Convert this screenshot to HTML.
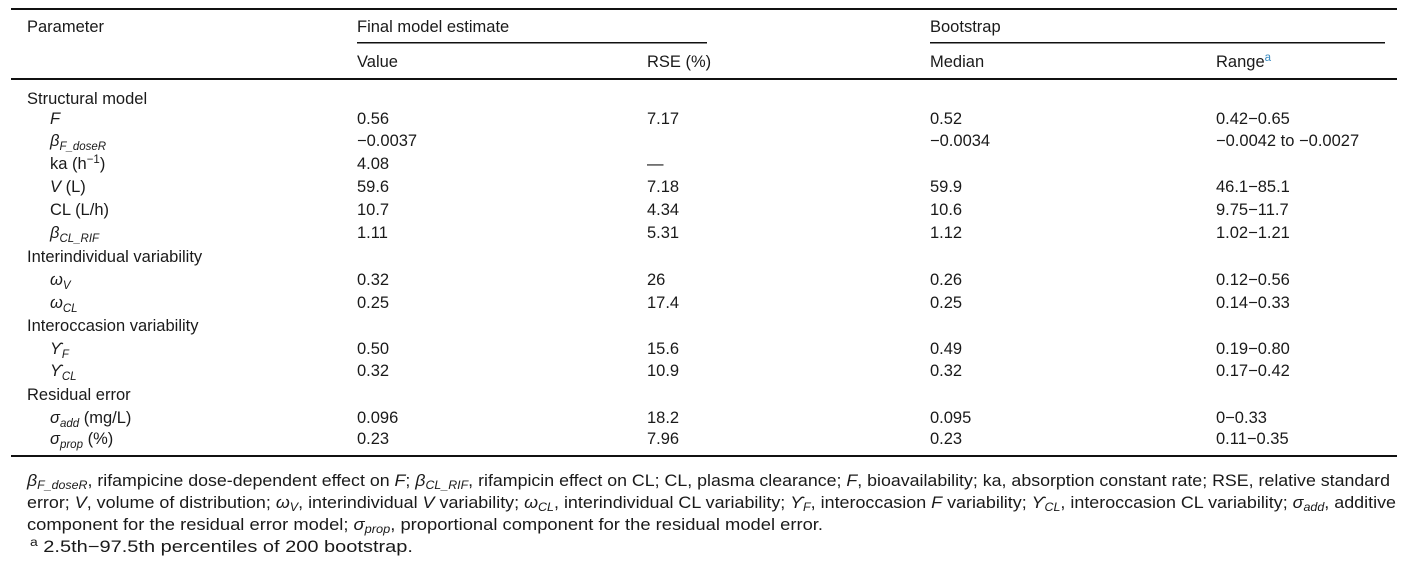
<!DOCTYPE html>
<html><head><meta charset="utf-8"><style>
html,body{margin:0;padding:0;background:#fff;width:1409px;height:561px;overflow:hidden}
svg text{font-family:"Liberation Sans",sans-serif;font-size:16.5px;fill:#1a1a1a}
.i{font-style:italic}
.s{font-size:11.5px}
</style></head><body>
<svg width="1409" height="561" viewBox="0 0 1409 561" xmlns="http://www.w3.org/2000/svg">
<rect x="11" y="8" width="1386" height="2" fill="#111"/>
<rect x="357" y="42" width="350" height="1.5" fill="#111"/>
<rect x="930" y="42" width="455" height="1.5" fill="#111"/>
<rect x="11" y="78" width="1386" height="2" fill="#111"/>
<rect x="11" y="455" width="1386" height="2" fill="#111"/>

<text x="27" y="32">Parameter</text>
<text x="357" y="32">Final model estimate</text>
<text x="930" y="32">Bootstrap</text>
<text x="357" y="67">Value</text>
<text x="647" y="67">RSE (%)</text>
<text x="930" y="67">Median</text>
<text x="1216" y="67">Range<tspan class="s" fill="#3a8ac0" dy="-6">a</tspan></text>

<g>
<text x="27" y="104">Structural model</text>
<text x="50" y="124" class="i">F</text><text x="357" y="124">0.56</text><text x="647" y="124">7.17</text><text x="930" y="124">0.52</text><text x="1216" y="124">0.42−0.65</text>
<text x="50" y="146" class="i">β<tspan class="s" dy="4">F_doseR</tspan></text><text x="357" y="146">−0.0037</text><text x="930" y="146">−0.0034</text><text x="1216" y="146">−0.0042 to −0.0027</text>
<text x="50" y="169">ka (h<tspan class="s" dy="-6">−1</tspan><tspan dy="6">)</tspan></text><text x="357" y="169">4.08</text><text x="647" y="169">—</text>
<text x="50" y="192"><tspan class="i">V</tspan> (L)</text><text x="357" y="192">59.6</text><text x="647" y="192">7.18</text><text x="930" y="192">59.9</text><text x="1216" y="192">46.1−85.1</text>
<text x="50" y="215">CL (L/h)</text><text x="357" y="215">10.7</text><text x="647" y="215">4.34</text><text x="930" y="215">10.6</text><text x="1216" y="215">9.75−11.7</text>
<text x="50" y="238" class="i">β<tspan class="s" dy="4">CL_RIF</tspan></text><text x="357" y="238">1.11</text><text x="647" y="238">5.31</text><text x="930" y="238">1.12</text><text x="1216" y="238">1.02−1.21</text>
<text x="27" y="262">Interindividual variability</text>
<text x="50" y="285" class="i">ω<tspan class="s" dy="4">V</tspan></text><text x="357" y="285">0.32</text><text x="647" y="285">26</text><text x="930" y="285">0.26</text><text x="1216" y="285">0.12−0.56</text>
<text x="50" y="308" class="i">ω<tspan class="s" dy="4">CL</tspan></text><text x="357" y="308">0.25</text><text x="647" y="308">17.4</text><text x="930" y="308">0.25</text><text x="1216" y="308">0.14−0.33</text>
<text x="27" y="331">Interoccasion variability</text>
<text x="50" y="354" class="i">ϒ<tspan class="s" dy="4">F</tspan></text><text x="357" y="354">0.50</text><text x="647" y="354">15.6</text><text x="930" y="354">0.49</text><text x="1216" y="354">0.19−0.80</text>
<text x="50" y="376" class="i">ϒ<tspan class="s" dy="4">CL</tspan></text><text x="357" y="376">0.32</text><text x="647" y="376">10.9</text><text x="930" y="376">0.32</text><text x="1216" y="376">0.17−0.42</text>
<text x="27" y="400">Residual error</text>
<text x="50" y="423"><tspan class="i">σ</tspan><tspan class="s i" dy="4">add</tspan><tspan dy="-4"> (mg/L)</tspan></text><text x="357" y="423">0.096</text><text x="647" y="423">18.2</text><text x="930" y="423">0.095</text><text x="1216" y="423">0−0.33</text>
<text x="50" y="444"><tspan class="i">σ</tspan><tspan class="s i" dy="4">prop</tspan><tspan dy="-4"> (%)</tspan></text><text x="357" y="444">0.23</text><text x="647" y="444">7.96</text><text x="930" y="444">0.23</text><text x="1216" y="444">0.11−0.35</text>
</g>

<text x="27" y="486" textLength="1363" lengthAdjust="spacingAndGlyphs"><tspan class="i">β<tspan class="s" dy="3">F_doseR</tspan></tspan><tspan dy="-3">, rifampicine dose-dependent effect on </tspan><tspan class="i">F</tspan>; <tspan class="i">β<tspan class="s" dy="3">CL_RIF</tspan></tspan><tspan dy="-3">, rifampicin effect on CL; CL, plasma clearance; </tspan><tspan class="i">F</tspan>, bioavailability; ka, absorption constant rate; RSE, relative standard</text>
<text x="27" y="508" textLength="1369" lengthAdjust="spacingAndGlyphs">error; <tspan class="i">V</tspan>, volume of distribution; <tspan class="i">ω<tspan class="s" dy="3">V</tspan></tspan><tspan dy="-3">, interindividual </tspan><tspan class="i">V</tspan> variability; <tspan class="i">ω<tspan class="s" dy="3">CL</tspan></tspan><tspan dy="-3">, interindividual CL variability; </tspan><tspan class="i">ϒ<tspan class="s" dy="3">F</tspan></tspan><tspan dy="-3">, interoccasion </tspan><tspan class="i">F</tspan> variability; <tspan class="i">ϒ<tspan class="s" dy="3">CL</tspan></tspan><tspan dy="-3">, interoccasion CL variability; </tspan><tspan class="i">σ<tspan class="s" dy="3">add</tspan></tspan><tspan dy="-3">, additive</tspan></text>
<text x="27" y="530" textLength="796" lengthAdjust="spacingAndGlyphs">component for the residual error model; <tspan class="i">σ<tspan class="s" dy="3">prop</tspan></tspan><tspan dy="-3">, proportional component for the residual model error.</tspan></text>
<text x="30" y="552" textLength="383" lengthAdjust="spacingAndGlyphs"><tspan class="s" dy="-6">a</tspan><tspan dy="6">  2.5th−97.5th percentiles of 200 bootstrap.</tspan></text>
</svg>
</body></html>
